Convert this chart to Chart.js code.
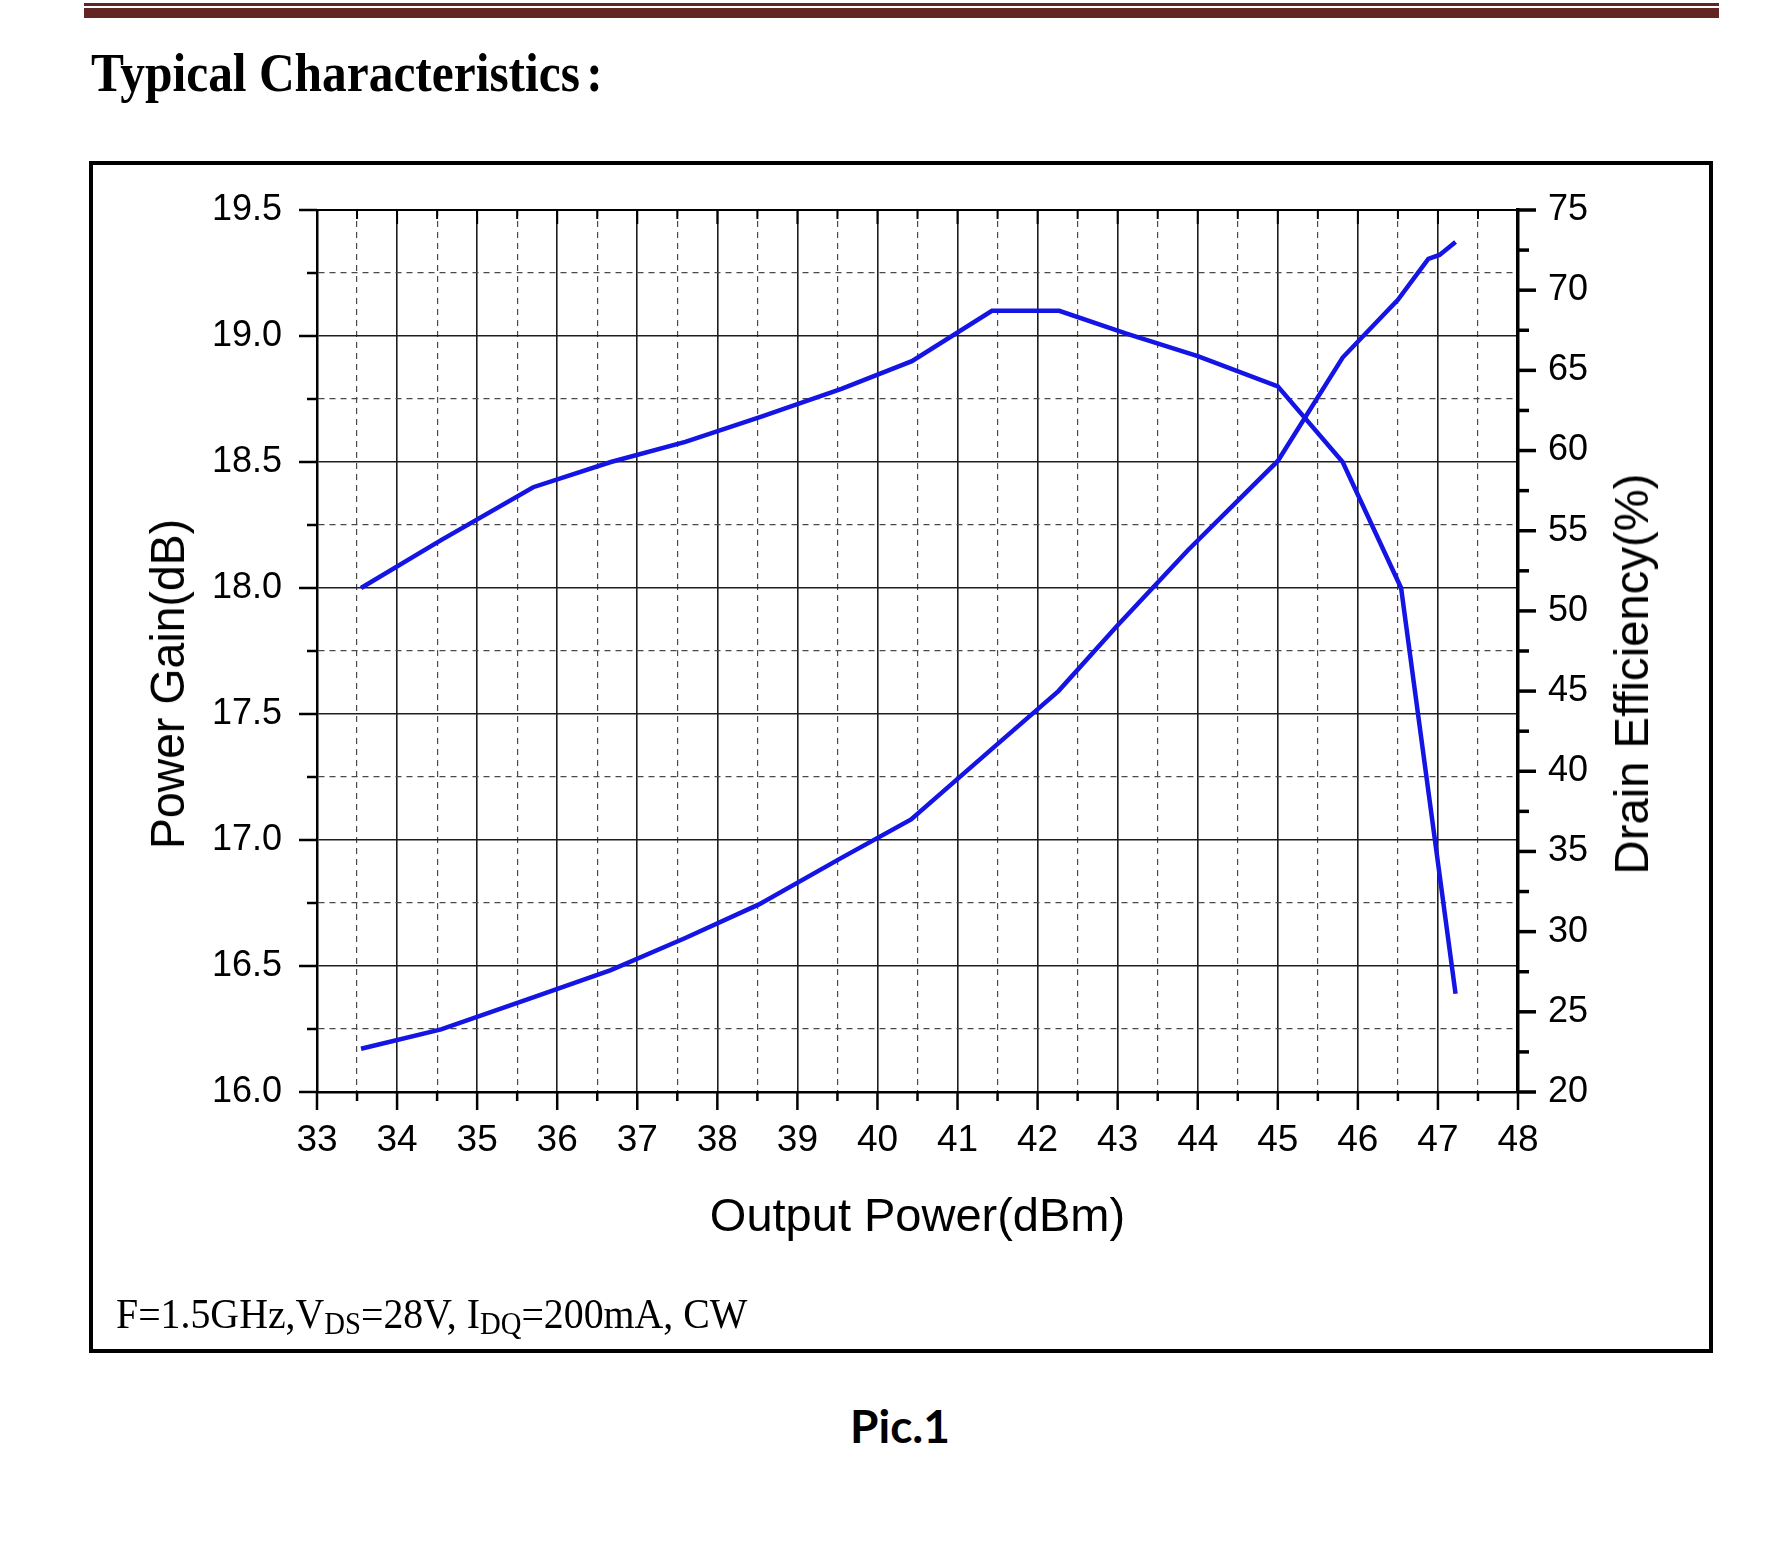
<!DOCTYPE html>
<html>
<head>
<meta charset="utf-8">
<script src="https://cdn.jsdelivr.net/npm/chart.js@4.4.0/dist/chart.umd.min.js"></script>
<style>
  body { margin: 0; background: #fff; }
  #page { position: relative; width: 1787px; height: 1547px; overflow: hidden; }
  .rule { position: absolute; left: 84px; width: 1635px; background: #632523; }
  #heading {
    position: absolute; left: 91px; top: 46px;
    font: bold 54px "Liberation Serif", "Times New Roman", serif; line-height: 1;
    white-space: nowrap; transform: scaleX(0.915); transform-origin: left center;
  }
  #heading .colon { margin-left: 7px; }
  #frame {
    position: absolute; left: 89px; top: 161px; width: 1624px; height: 1192px;
    border: 4px solid #000; box-sizing: border-box;
  }
  #chart { position: absolute; left: 0; top: 0; }
  .vtitle {
    position: absolute; font: 48px "Liberation Sans", Arial, sans-serif; line-height: 1;
    white-space: nowrap; color: #000;
  }
  #ylabel { left: 167.5px; top: 684px; transform: translate(-50%, -50%) rotate(-90deg) scaleX(0.967); }
  #y1label { left: 1631.5px; top: 674px; transform: translate(-50%, -50%) rotate(-90deg) scaleX(0.985); }
  #note {
    position: absolute; left: 116px; top: 1292px;
    font: 43px "Liberation Serif", "Times New Roman", serif; line-height: 1;
    white-space: nowrap; transform: scaleX(0.926); transform-origin: left center;
  }
  #note .sub { font-size: 72%; position: relative; top: 0.18em; }
  #caption {
    position: absolute; left: 0; width: 1800px; top: 1403px; text-align: center;
    font: bold 46px Lato, "Open Sans", sans-serif; line-height: 1;
  }
</style>
</head>
<body>
<div id="page">
  <div class="rule" style="top:3px;height:3px"></div>
  <div class="rule" style="top:8px;height:10px"></div>
  <div id="heading">Typical Characteristics<span class="colon">:</span></div>
  <div id="frame"></div>
  <canvas id="chart" width="1787" height="1300"></canvas>
  <div class="vtitle" id="ylabel">Power Gain(dB)</div>
  <div class="vtitle" id="y1label">Drain Efficiency(%)</div>
  <div id="note">F=1.5GHz,V<span class="sub">DS</span>=28V, I<span class="sub">DQ</span>=200mA, CW</div>
  <div id="caption">Pic.1</div>
</div>
<script>
// Output power (dBm) vs power gain (dB)
const gainX = [33.55, 34.55, 35.7, 36.67, 37.6, 38.55, 39.55, 40.43, 41.43, 42.27, 43.1, 44.0, 45.0, 45.81, 46.54, 47.22];
const gainY = [18.00, 18.19, 18.40, 18.50, 18.58, 18.68, 18.79, 18.90, 19.10, 19.10, 19.01, 18.92, 18.80, 18.50, 18.00, 16.39];

// Output power (dBm) vs drain efficiency (%)
const effX = [33.55, 34.55, 35.7, 36.67, 37.6, 38.52, 39.55, 40.42, 41.43, 42.26, 43.0, 43.88, 45.0, 45.81, 46.5, 46.88, 47.02, 47.22];
const effY = [22.7, 23.9, 25.9, 27.6, 29.6, 31.7, 34.6, 37.0, 41.4, 45.0, 49.1, 53.8, 59.35, 65.8, 69.4, 71.95, 72.2, 73.0];

// axis ranges
const xRange = [33, 48];
const gainRange = [16, 19.5];
const effRange = [20, 75];

const lineBlue = '#1414e4';
const solidGrid = '#1e1e1e';
const dashGrid = '#4a4a4a';
const tickFont = { family: '"Liberation Sans", Arial, sans-serif', size: 36 };

const isMultiple = (v, step) => Math.abs(v / step - Math.round(v / step)) < 1e-6;

// outside tick marks (long on labelled values) and the top frame line
const frameTicks = {
  id: 'frameTicks',
  afterDraw(chart) {
    const { ctx, chartArea: a, scales } = chart;
    const seg = (x1, y1, x2, y2, w) => {
      ctx.lineWidth = w;
      ctx.beginPath(); ctx.moveTo(x1, y1); ctx.lineTo(x2, y2); ctx.stroke();
    };
    ctx.save();
    ctx.strokeStyle = '#000';
    seg(a.left - 1, a.top, a.right + 1, a.top, 2);
    scales.x.ticks.forEach(t => {
      const px = scales.x.getPixelForValue(t.value);
      const major = isMultiple(t.value, 1);
      seg(px, a.bottom, px, a.bottom + (major ? 18 : 9), 2.5);
      seg(px, a.top, px, a.top + (major ? 14 : 9), 2);
    });
    scales.y.ticks.forEach(t => {
      const py = scales.y.getPixelForValue(t.value);
      seg(a.left, py, a.left - (isMultiple(t.value, 0.5) ? 18 : 10), py, 2.5);
    });
    scales.y1.ticks.forEach(t => {
      const py = scales.y1.getPixelForValue(t.value);
      seg(a.right, py, a.right + (isMultiple(t.value, 5) ? 18 : 11), py, 3.5);
    });
    ctx.restore();
  }
};

const gainPts = gainX.map((x, i) => ({ x, y: gainY[i] }));
const effPts = effX.map((x, i) => ({ x, y: effY[i] }));

new Chart(document.getElementById('chart').getContext('2d'), {
  type: 'line',
  data: {
    datasets: [
      { label: 'Power Gain(dB)', data: gainPts, yAxisID: 'y', borderColor: lineBlue, borderWidth: 4.5, pointRadius: 0, tension: 0, fill: false },
      { label: 'Drain Efficiency(%)', data: effPts, yAxisID: 'y1', borderColor: lineBlue, borderWidth: 4.5, pointRadius: 0, tension: 0, fill: false }
    ]
  },
  options: {
    responsive: false,
    animation: false,
    devicePixelRatio: 1,
    layout: { padding: { left: 117, right: 69, top: 210, bottom: 0 } },
    plugins: { legend: { display: false }, tooltip: { enabled: false } },
    scales: {
      x: {
        type: 'linear', position: 'bottom', min: xRange[0], max: xRange[1],
        afterFit: s => { s.height = 208; },
        ticks: {
          stepSize: 0.5, autoSkip: false, maxRotation: 0, padding: 27, color: '#000',
          font: { family: tickFont.family, size: 37 },
          callback: v => isMultiple(v, 1) ? String(v) : ''
        },
        grid: {
          drawTicks: false,
          color: c => isMultiple(c.tick.value, 1) ? solidGrid : dashGrid,
          lineWidth: c => isMultiple(c.tick.value, 1) ? 1.6 : 1.2
        },
        border: { color: '#000', width: 2.5, dash: c => (c.tick && !isMultiple(c.tick.value, 1)) ? [6, 5] : [] },
        title: {
          display: true, text: 'Output Power(dBm)', color: '#000',
          font: { family: tickFont.family, size: 47 }, padding: { top: 0, bottom: 54 }
        }
      },
      y: {
        type: 'linear', position: 'left', min: gainRange[0], max: gainRange[1],
        afterFit: s => { s.width = 200; },
        ticks: {
          stepSize: 0.25, autoSkip: false, padding: 35, color: '#000', font: tickFont,
          callback: v => isMultiple(v, 0.5) ? v.toFixed(1) : ''
        },
        grid: {
          drawTicks: false,
          color: c => isMultiple(c.tick.value, 0.5) ? solidGrid : dashGrid,
          lineWidth: c => isMultiple(c.tick.value, 0.5) ? 1.6 : 1.2
        },
        border: { color: '#000', width: 2.5, dash: c => (c.tick && !isMultiple(c.tick.value, 0.5)) ? [6, 5] : [] }
      },
      y1: {
        type: 'linear', position: 'right', min: effRange[0], max: effRange[1],
        afterFit: s => { s.width = 200; },
        ticks: {
          stepSize: 2.5, autoSkip: false, padding: 30, color: '#000', font: tickFont,
          callback: v => isMultiple(v, 5) ? String(v) : ''
        },
        grid: { drawTicks: false, drawOnChartArea: false },
        border: { color: '#000', width: 3.5 }
      }
    }
  },
  plugins: [frameTicks]
});
</script>
</body>
</html>
